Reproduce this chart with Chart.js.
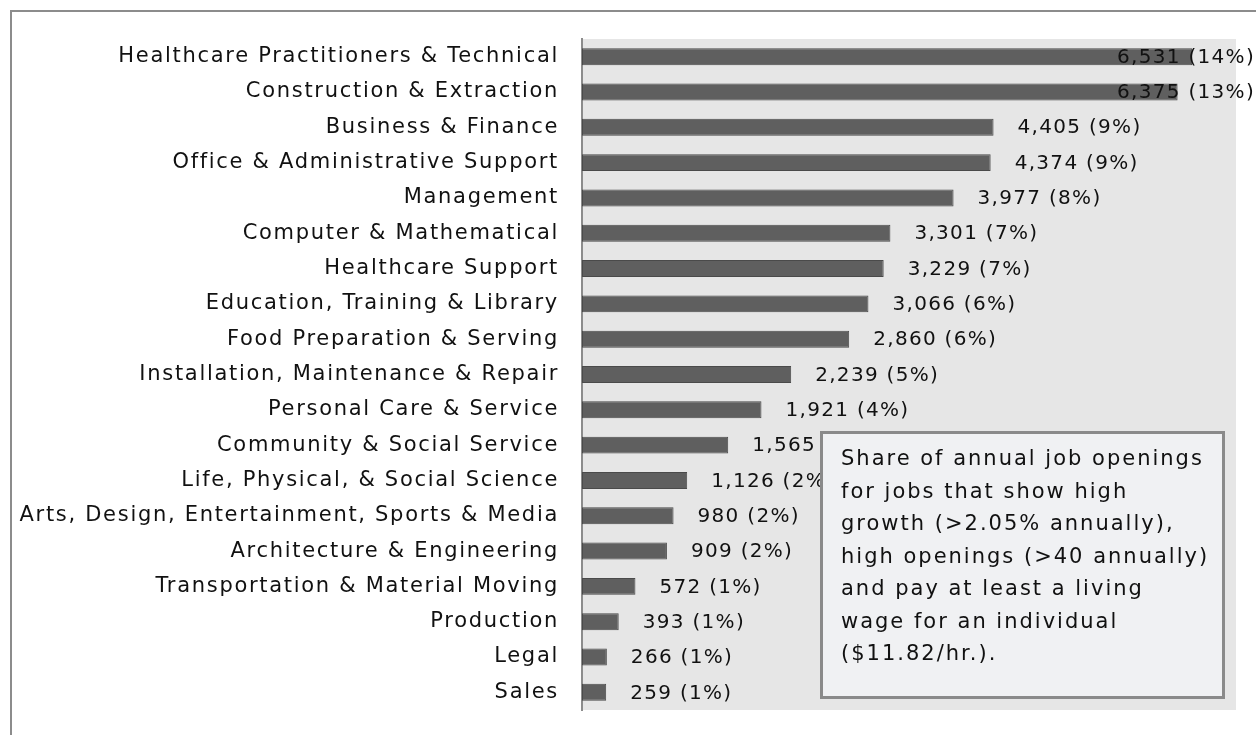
<!DOCTYPE html>
<html>
<head>
<meta charset="utf-8">
<script src="https://cdn.jsdelivr.net/npm/chart.js@4"></script>
<style>
    html, body { margin:0; padding:0; background:#ffffff; }
    #wrap { width:1256px; height:735px; position:relative; }
</style>
</head>
<body>
<div id="wrap"><canvas id="jobsChart"></canvas></div>
<script>
// =====================================
// DATA
// =====================================

const categories = [
    "Healthcare Practitioners & Technical",
    "Construction & Extraction",
    "Business & Finance",
    "Office & Administrative Support",
    "Management",
    "Computer & Mathematical",
    "Healthcare Support",
    "Education, Training & Library",
    "Food Preparation & Serving",
    "Installation, Maintenance & Repair",
    "Personal Care & Service",
    "Community & Social Service",
    "Life, Physical, & Social Science",
    "Arts, Design, Entertainment, Sports & Media",
    "Architecture & Engineering",
    "Transportation & Material Moving",
    "Production",
    "Legal",
    "Sales"
];

const openings = [
    6531, 6375, 4405, 4374, 3977, 3301, 3229, 3066, 2860, 2239,
    1921, 1565, 1126, 980, 909, 572, 393, 266, 259
];

const shares = [
    14, 13, 9, 9, 8, 7, 7, 6, 6, 5,
    4, 3, 2, 2, 2, 1, 1, 1, 1
];

const noteLines = [
    "Share of annual job openings",
    "for jobs that show high",
    "growth (>2.05% annually),",
    "high openings (>40 annually)",
    "and pay at least a living",
    "wage for an individual",
    "($11.82/hr.)."
];

const FONT = "'DejaVu Sans', Verdana, sans-serif";


// =====================================
// PLUGINS
// =====================================

const backdrop = {
    id:"backdrop",
    beforeDraw(chart){
        const ctx = chart.ctx;
        const a = chart.chartArea;
        // spacing used by the axis labels drawn after this
        ctx.letterSpacing = "1.7px";
        ctx.save();
        // outer frame
        ctx.fillStyle = "#8c8c8c";
        ctx.fillRect(10, 10, chart.width - 10, 2);
        ctx.fillRect(10, 10, 2, chart.height - 10);
        // plot area
        ctx.fillStyle = "#e6e6e6";
        ctx.fillRect(a.left, a.top, a.right - a.left, a.bottom - a.top);
        ctx.restore();
    }
};

const valueLabels = {
    id:"valueLabels",
    afterDatasetsDraw(chart){
        const ctx = chart.ctx;
        const meta = chart.getDatasetMeta(0);
        ctx.save();
        ctx.letterSpacing = "1.3px";
        ctx.font = "20px " + FONT;
        ctx.fillStyle = "#111111";
        ctx.textBaseline = "middle";
        ctx.textAlign = "left";
        meta.data.forEach((bar, i)=>{
            const txt = openings[i].toLocaleString("en-US") + " (" + shares[i] + "%)";
            const w = ctx.measureText(txt).width;
            const x = Math.min(bar.x + 24, chart.width - 1 - w);
            ctx.fillText(txt, x, bar.y + 1);
        });
        ctx.restore();
    }
};

const noteBox = {
    id:"noteBox",
    afterDraw(chart){
        const ctx = chart.ctx;
        const bx = 820, by = 431, bw = 405, bh = 268;
        ctx.save();
        ctx.fillStyle = "#f0f1f3";
        ctx.fillRect(bx, by, bw, bh);
        ctx.strokeStyle = "#8a8a8a";
        ctx.lineWidth = 3;
        ctx.strokeRect(bx + 1.5, by + 1.5, bw - 3, bh - 3);
        ctx.letterSpacing = "2px";
        ctx.font = "21px " + FONT;
        ctx.fillStyle = "#111111";
        ctx.textBaseline = "alphabetic";
        noteLines.forEach((line, i)=>{
            ctx.fillText(line, bx + 21, by + 34 + i * 32.5);
        });
        ctx.restore();
    }
};


// =====================================
// CHART
// =====================================

new Chart(document.getElementById("jobsChart"),{
    type:"bar",
    data:{
        labels:categories,
        datasets:[{
            data:openings,
            backgroundColor:"#5f5f5f",
            borderColor:"#4a4a4a",
            borderWidth:1,
            borderSkipped:false,
            categoryPercentage:1,
            barPercentage:0.48
        }]
    },
    options:{
        indexAxis:"y",
        responsive:true,
        maintainAspectRatio:false,
        animation:false,
        layout:{
            padding:{ left:0, right:20, top:39, bottom:25 }
        },
        plugins:{
            legend:{ display:false },
            tooltip:{ enabled:false }
        },
        scales:{
            x:{
                display:false,
                min:0,
                max:7000
            },
            y:{
                grid:{ display:false, drawTicks:false },
                border:{ display:true, color:"#8c8c8c", width:2 },
                ticks:{
                    autoSkip:false,
                    padding:23,
                    color:"#111111",
                    font:{ family:FONT, size:21 }
                },
                afterFit(scale){
                    scale.width = 582;
                    scale.paddingTop = 0;
                    scale.paddingBottom = 0;
                }
            }
        }
    },
    plugins:[backdrop, valueLabels, noteBox]
});
</script>
</body>
</html>
